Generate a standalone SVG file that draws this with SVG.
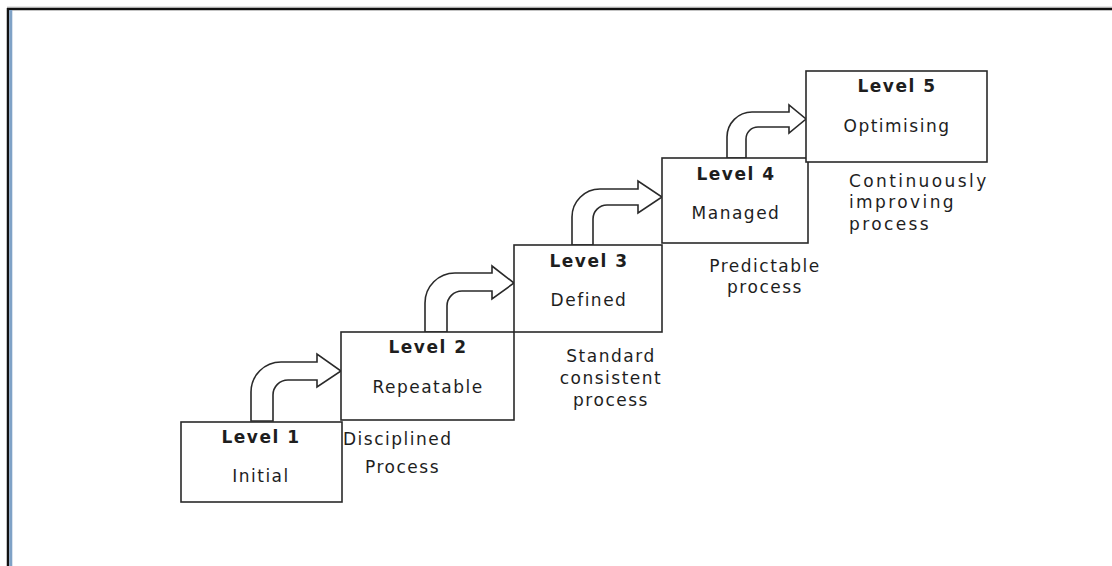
<svg xmlns="http://www.w3.org/2000/svg" width="1112" height="566" viewBox="0 0 1112 566">
<style>
.box{fill:#fff;stroke:#2a2a2a;stroke-width:1.6}
.arr{fill:#fff;stroke:#2a2a2a;stroke-width:1.6;stroke-linejoin:miter}
text{font-family:"DejaVu Sans","Liberation Sans",sans-serif;font-size:17px;fill:#1e1e1e;letter-spacing:1.5px}
.t{font-weight:bold;text-anchor:middle}
.s{text-anchor:middle}
.w{letter-spacing:2.4px}
</style>
<rect width="1112" height="566" fill="#fff"/>
<g id="frame">
<line x1="7" y1="7" x2="1112" y2="7" stroke="#ccc" stroke-width="1"/>
<line x1="7" y1="9" x2="1112" y2="9" stroke="#111" stroke-width="2.5"/>
<line x1="8" y1="8" x2="8" y2="566" stroke="#111" stroke-width="2.5"/>
<line x1="10.8" y1="10" x2="10.8" y2="566" stroke="#7fa2c6" stroke-width="3"/>
</g>
<g id="connectors">
<path class="arr" d="M251 421 L251 392 A30 30 0 0 1 281 362 L317 362 L317 354 L341 371 L317 387 L317 380 L288 380 A15 15 0 0 0 273 395 L273 421 Z"/>
<path class="arr" d="M425 332 L425 303 A30 30 0 0 1 455 273 L492 273 L492 266 L514 283 L492 299 L492 291 L462 291 A15 15 0 0 0 447 306 L447 332 Z"/>
<path class="arr" d="M572 245 L572 217 A28 28 0 0 1 600 189 L638 189 L638 181 L662 197 L638 213 L638 205 L607 205 A14 14 0 0 0 593 219 L593 245 Z"/>
<path class="arr" d="M727 158 L727 137 A25 25 0 0 1 752 112 L789 112 L789 105 L806 119 L789 133 L789 127 L758 127 A12 12 0 0 0 746 139 L746 158 Z"/>
</g>
<g id="level1">
<rect class="box" x="181" y="422" width="161" height="80"/>
<text class="t" x="261" y="443">Level 1</text>
<text class="s" x="261" y="482">Initial</text>
<text x="343" y="445">Disciplined</text>
<text x="365" y="473">Process</text>
</g>
<g id="level2">
<rect class="box" x="341" y="332" width="173" height="88"/>
<text class="t" x="428" y="353">Level 2</text>
<text class="s" x="428" y="393">Repeatable</text>
<text class="s" x="611" y="362">Standard</text>
<text class="s" x="611" y="384">consistent</text>
<text class="s" x="611" y="406">process</text>
</g>
<g id="level3">
<rect class="box" x="514" y="245" width="148" height="87"/>
<text class="t" x="589" y="267">Level 3</text>
<text class="s" x="589" y="306">Defined</text>
<text class="s" x="765" y="272">Predictable</text>
<text class="s" x="765" y="293">process</text>
</g>
<g id="level4">
<rect class="box" x="662" y="158" width="146" height="85"/>
<text class="t" x="736" y="180">Level 4</text>
<text class="s" x="736" y="219">Managed</text>
</g>
<g id="level5">
<rect class="box" x="806" y="71" width="181" height="91"/>
<text class="t" x="897" y="92">Level 5</text>
<text class="s" x="897" y="132">Optimising</text>
<text class="w" x="849" y="187">Continuously</text>
<text class="w" x="849" y="208">improving</text>
<text class="w" x="849" y="230">process</text>
</g>
</svg>
